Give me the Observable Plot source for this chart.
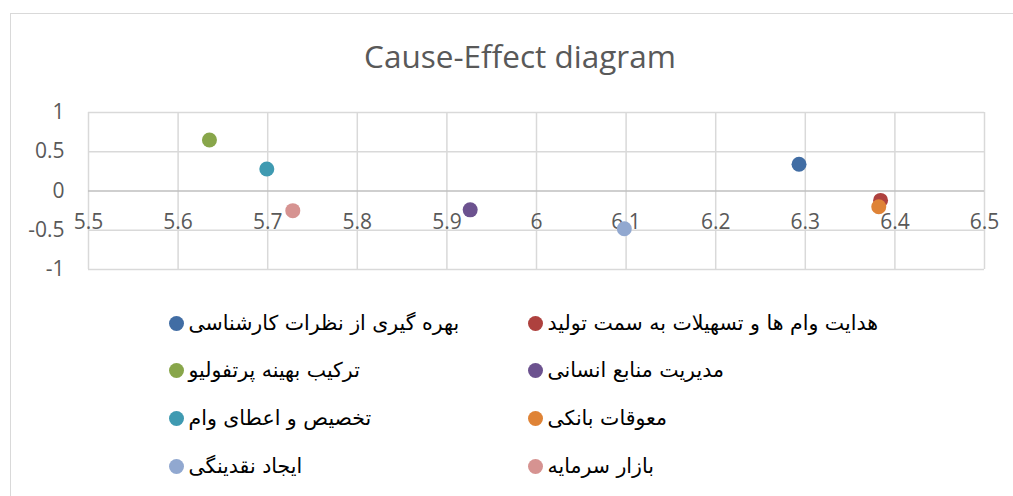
<!DOCTYPE html>
<html>
<head>
<meta charset="utf-8">
<script src="https://cdn.jsdelivr.net/npm/d3@7"></script>
<script src="https://cdn.jsdelivr.net/npm/@observablehq/plot@0.6"></script>
<style>
  html, body { margin: 0; padding: 0; background: #fff; }
  #wrap { position: relative; width: 1013px; height: 496px; overflow: hidden; background: #fff; }
  #frame { position: absolute; left: 10px; top: 13px; width: 1100px; height: 600px;
           border-left: 1.5px solid #d9d9d9; border-top: 1.5px solid #d9d9d9; }
  #title { position: absolute; left: 0; top: 40px; width: 1040px; text-align: center;
           font-family: "Open Sans", sans-serif; font-size: 31.5px; line-height: 31.5px; color: #595959; }
  #plot { position: absolute; left: 0; top: 90px; }
  .item { position: absolute; height: 30px; display: flex; align-items: center; }
  .item .sw { width: 15px; height: 15px; border-radius: 50%; flex: none; }
  .item .lb { margin-left: 5px; font-family: "DejaVu Sans", sans-serif; font-size: 20.5px; color: #000; white-space: nowrap; }
</style>
</head>
<body>
<div id="wrap">
  <div id="frame"></div>
  <div id="title">Cause-Effect diagram</div>
  <div id="plot"></div>
  <div id="legend"></div>
</div>
<script>
// Series (Excel order)
const names = [
  "بهره گیری از نظرات کارشناسی",
  "هدایت وام ها و تسهیلات به سمت تولید",
  "ترکیب بهینه پرتفولیو",
  "مدیریت منابع انسانی",
  "تخصیص و اعطای وام",
  "معوقات بانکی",
  "ایجاد نقدینگی",
  "بازار سرمایه"
];
const xValues = [6.293, 6.384, 5.635, 5.926, 5.699, 6.382, 6.098, 5.728];
const yValues = [0.34, -0.12, 0.65, -0.24, 0.28, -0.20, -0.48, -0.25];
const colors = ["#416DA4", "#AE413E", "#88A64A", "#6C528F", "#3F9AB1", "#DF8336", "#91A8D0", "#D69391"];
const xTicks = [5.5, 5.6, 5.7, 5.8, 5.9, 6, 6.1, 6.2, 6.3, 6.4, 6.5];
const yTicks = [-1, -0.5, 0, 0.5, 1];

const data = names.map((n, i) => ({name: n, x: xValues[i], y: yValues[i], color: colors[i]}));

const chart = Plot.plot({
  width: 1013,
  height: 200,
  marginLeft: 88,
  marginRight: 29,
  marginTop: 22,
  marginBottom: 21,
  style: {fontFamily: "'Open Sans', sans-serif", fontSize: "21px", color: "#595959", background: "transparent"},
  x: {domain: [5.5, 6.5], axis: null},
  y: {domain: [-1, 1], ticks: yTicks, tickSize: 0, tickPadding: 24, tickFormat: d => String(d), label: null},
  marks: [
    Plot.ruleX(xTicks, {x: d => d, stroke: "#d9d9d9", strokeWidth: 1.5, strokeOpacity: 1}),
    Plot.ruleY(yTicks.filter(d => d !== 0), {y: d => d, stroke: "#d9d9d9", strokeWidth: 1.5, strokeOpacity: 1}),
    Plot.ruleY([0], {y: d => d, stroke: "#bfbfbf", strokeWidth: 1.5, strokeOpacity: 1}),
    Plot.text(xTicks, {x: d => d, y: () => 0, dy: 31, text: d => String(d), fill: "#595959", fontSize: 21}),
    Plot.dot(data, {x: "x", y: "y", fill: "color", r: 7.5, stroke: null})
  ]
});
document.getElementById("plot").appendChild(chart);

// Legend (row-major, two columns)
const legendCols = [176, 535];
const legendRows = [323, 370, 418, 466];
const legend = document.getElementById("legend");
data.forEach((d, i) => {
  const col = i % 2, row = Math.floor(i / 2);
  const item = document.createElement("div");
  item.className = "item";
  item.style.left = (legendCols[col] - 7.5) + "px";
  item.style.top = (legendRows[row] - 15) + "px";
  const sw = document.createElement("span");
  sw.className = "sw";
  sw.style.background = d.color;
  const lb = document.createElement("span");
  lb.className = "lb";
  lb.dir = "rtl";
  lb.textContent = d.name;
  item.appendChild(sw);
  item.appendChild(lb);
  legend.appendChild(item);
});
</script>
</body>
</html>
